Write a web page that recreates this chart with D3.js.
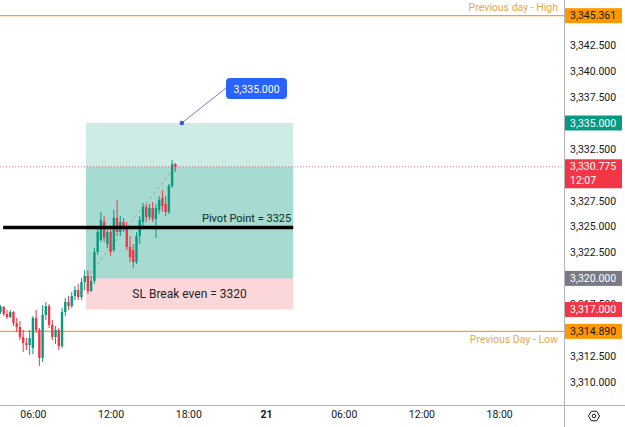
<!DOCTYPE html>
<html><head><meta charset="utf-8">
<script src="https://cdn.jsdelivr.net/npm/d3@7"></script>
<style>html,body{margin:0;padding:0;background:#fff;overflow:hidden}svg{display:block;font-family:Roboto,"Liberation Sans",sans-serif}</style>
</head><body><svg id="c" width="625" height="427"></svg>
<script>
// ---- data ----
const startHour = 3.5;          // first candle 03:30 (day 20)
const barHours = 0.25;          // 15 minute candles
const open  = [3316.76,3317.24,3316.56,3316.27,3316.76,3315.69,3315.31,3314.34,3313.76,3313.57,3313.28,3316.18,3315.02,3312.32,3316.47,3317.33,3315.50,3314.34,3315.02,3313.47,3316.76,3317.72,3317.33,3318.30,3318.88,3318.20,3319.65,3320.23,3318.78,3319.75,3322.55,3323.71,3325.44,3323.32,3324.48,3322.74,3325.83,3324.48,3325.44,3324.86,3323.03,3322.74,3321.58,3324.09,3325.44,3326.89,3325.93,3326.79,3325.73,3326.60,3327.76,3327.18,3326.41,3328.92,3331.04];
const high  = [3317.43,3317.33,3316.95,3316.95,3316.85,3316.18,3315.89,3315.02,3314.25,3315.02,3316.37,3316.95,3315.21,3317.43,3317.72,3317.53,3315.98,3315.40,3315.21,3317.14,3318.11,3318.30,3318.69,3319.27,3319.46,3320.04,3320.81,3320.81,3320.23,3322.93,3324.86,3326.41,3326.02,3325.06,3324.86,3326.60,3327.57,3326.02,3325.83,3325.44,3324.09,3323.32,3324.48,3326.02,3327.28,3327.18,3327.18,3327.37,3327.18,3327.95,3328.53,3327.95,3329.11,3331.43,3331.14];
const low   = [3316.56,3316.37,3316.08,3316.18,3315.40,3314.82,3314.05,3312.89,3313.09,3312.60,3312.70,3314.73,3311.54,3311.93,3315.98,3315.21,3314.05,3313.67,3313.09,3313.28,3316.37,3316.95,3317.14,3317.91,3317.91,3317.91,3318.88,3318.49,3318.69,3319.46,3322.26,3323.51,3323.51,3322.93,3322.16,3322.55,3324.09,3324.09,3324.48,3322.74,3321.58,3321.00,3321.39,3323.32,3325.06,3325.44,3325.64,3325.44,3323.90,3326.22,3326.41,3326.02,3326.22,3328.73,3330.27];
const close = [3317.24,3316.56,3316.27,3316.76,3315.69,3315.31,3314.34,3313.76,3313.57,3314.25,3316.18,3315.02,3312.32,3316.47,3317.33,3315.50,3314.34,3315.02,3313.47,3316.76,3317.72,3317.33,3318.30,3318.88,3318.20,3319.65,3320.23,3318.78,3319.75,3322.55,3324.48,3325.64,3323.90,3324.48,3322.55,3325.83,3324.48,3325.44,3324.86,3323.03,3322.06,3321.58,3324.09,3325.64,3326.89,3325.93,3326.79,3325.73,3326.79,3327.57,3326.99,3326.41,3328.92,3331.04,3330.775];

const priceTicks = [3342.5,3340,3337.5,3335,3332.5,3327.5,3325,3322.5,3320,3317.5,3315,3312.5,3310];
const timeTickHours = [6,12,18,24,30,36,42];
const timeTickLabels = ["06:00","12:00","18:00","21","06:00","12:00","18:00"];

const prevHigh = 3345.361, prevLow = 3314.890;
const pivot = 3325, target = 3335, entry = 3320, stop = 3317, lastPrice = 3330.775;
const countdown = "12:07";
const positionStartHour = 10.1, positionEndHour = 26.1;  // long position tool span
const pivotStartHour = 3.7;
const targetDotHour = 17.5;

// ---- scales ----
const W = 625, H = 427, plotR = 564, plotB = 405;
const y = d3.scaleLinear().domain([3335, 3310]).range([123, 382]);
const x = d3.scaleLinear().domain([3.46, 47.01]).range([0, plotR]);
const fmt = d3.format(",.3f");
const svg = d3.select("#c");

const green = "#089981", red = "#f23645", orange = "#f2a32a";

const plot = svg.append("g");
plot.append("defs").append("clipPath").attr("id","clip").append("rect").attr("x",0).attr("y",0).attr("width",plotR).attr("height",plotB);
const g = plot.append("g").attr("clip-path","url(#clip)");

// position tool
const xs = x(positionStartHour), xe = x(positionEndHour);
g.append("rect").attr("x",xs).attr("y",y(target)).attr("width",xe-xs).attr("height",y(entry)-y(target)).attr("fill","rgba(8,153,129,0.2)");
g.append("rect").attr("x",xs).attr("y",y(lastPrice)).attr("width",xe-xs).attr("height",y(entry)-y(lastPrice)).attr("fill","rgba(8,153,129,0.2)");
g.append("rect").attr("x",xs).attr("y",y(entry)).attr("width",xe-xs).attr("height",y(stop)-y(entry)).attr("fill","rgba(242,54,69,0.2)");

// prev day lines
g.append("line").attr("x1",0).attr("x2",plotR).attr("y1",y(prevHigh)).attr("y2",y(prevHigh)).attr("stroke",orange).attr("stroke-width",1.4);
g.append("line").attr("x1",0).attr("x2",plotR).attr("y1",y(prevLow)).attr("y2",y(prevLow)).attr("stroke",orange).attr("stroke-width",1.4);
g.append("text").attr("x",558).attr("y",y(prevHigh)-5).attr("text-anchor","end").attr("fill","#e6a94a").attr("font-size",10.5).text("Previous day - High");
g.append("text").attr("x",558).attr("y",y(prevLow)+12).attr("text-anchor","end").attr("fill","#e6a94a").attr("font-size",10.5).text("Previous Day - Low");

// last price dotted line
g.append("line").attr("x1",0).attr("x2",plotR).attr("y1",y(lastPrice)).attr("y2",y(lastPrice)).attr("stroke",red).attr("stroke-width",1).attr("stroke-dasharray","1,2").attr("opacity",0.7);

// dashed entry->current
const lastIdx = close.length-1;
const lastHour = startHour + lastIdx*barHours;
g.append("line").attr("x1",xs).attr("y1",y(entry)).attr("x2",x(lastHour)).attr("y2",y(lastPrice)).attr("stroke","#9aa0a8").attr("stroke-width",1).attr("stroke-dasharray","3,3");

// candles
const idx = d3.range(close.length);
const cg = g.append("g");
cg.selectAll("line.w").data(idx).join("line")
  .attr("x1",i=>x(startHour+i*barHours)).attr("x2",i=>x(startHour+i*barHours))
  .attr("y1",i=>y(high[i])).attr("y2",i=>y(low[i]))
  .attr("stroke",i=>close[i]>=open[i]?green:red).attr("stroke-width",1);
cg.selectAll("rect.b").data(idx).join("rect")
  .attr("x",i=>x(startHour+i*barHours)-1.2).attr("width",2.4)
  .attr("y",i=>y(Math.max(open[i],close[i])))
  .attr("height",i=>Math.max(1,Math.abs(y(open[i])-y(close[i]))))
  .attr("fill",i=>close[i]>=open[i]?green:red);

// pivot line
g.append("line").attr("x1",x(pivotStartHour)).attr("x2",xe).attr("y1",y(pivot)+1).attr("y2",y(pivot)+1).attr("stroke","#000").attr("stroke-width",3.5);
g.append("text").attr("x",xe-2).attr("y",y(pivot)-5).attr("text-anchor","end").attr("fill","#0f2e2a").attr("font-size",11).text("Pivot Point = " + pivot);
g.append("text").attr("x",(xs+xe)/2).attr("y",(y(entry)+y(stop))/2+4.5).attr("text-anchor","middle").attr("fill","#1e1e1e").attr("font-size",12).text("SL Break even = " + entry);

// target callout
const dx = x(targetDotHour), dy = y(target);
g.append("line").attr("x1",dx).attr("y1",dy).attr("x2",226).attr("y2",88).attr("stroke","#6b7fd8").attr("stroke-width",1);
g.append("circle").attr("cx",dx).attr("cy",dy).attr("r",2.3).attr("fill","#3d56d6");
g.append("rect").attr("x",226).attr("y",78).attr("width",61).attr("height",21).attr("rx",4).attr("fill","#2962ff");
g.append("text").attr("x",256.5).attr("y",92.5).attr("text-anchor","middle").attr("fill","#fff").attr("font-size",10.5).text(fmt(target));

// axes lines
svg.append("line").attr("x1",plotR+0.5).attr("x2",plotR+0.5).attr("y1",0).attr("y2",H).attr("stroke","#b2b5be");
svg.append("line").attr("x1",0).attr("x2",W).attr("y1",plotB+0.5).attr("y2",plotB+0.5).attr("stroke","#b2b5be");

// right price axis
const yAxis = d3.axisRight(y).tickValues(priceTicks).tickSize(0).tickPadding(6).tickFormat(fmt);
const ya = svg.append("g").attr("transform",`translate(${plotR},0)`).call(yAxis);
ya.select(".domain").remove();
ya.selectAll("text").attr("font-size",10.5).attr("fill","#131722").attr("font-family","Roboto,'Liberation Sans',sans-serif");

// price labels on axis
function tag(v, bg, fg, extra){
  const h = extra ? 29 : 15;
  const yy = y(v) - 7.5;
  svg.append("rect").attr("x",plotR+1).attr("y",yy).attr("width",57).attr("height",h).attr("fill",bg);
  svg.append("text").attr("x",plotR+6).attr("y",yy+11).attr("fill",fg).attr("font-size",10.5).text(fmt(v));
  if(extra) svg.append("text").attr("x",plotR+6).attr("y",yy+25).attr("fill",fg).attr("font-size",10.5).text(extra);
}
tag(prevHigh, "#ff9800", "#131722");
tag(target, green, "#fff");
tag(lastPrice, red, "#fff", countdown);
tag(entry, "#787b86", "#fff");
tag(stop, red, "#fff");
tag(prevLow, "#ff9800", "#131722");

// time axis
const xAxis = d3.axisBottom(x).tickValues(timeTickHours).tickSize(0).tickPadding(6).tickFormat((d,i)=>timeTickLabels[i]);
const xa = svg.append("g").attr("transform",`translate(0,${plotB})`).call(xAxis);
xa.select(".domain").remove();
xa.selectAll("text").attr("font-size",10.5).attr("fill","#131722").attr("font-family","Roboto,'Liberation Sans',sans-serif")
  .attr("font-weight",(d,i)=>timeTickLabels[i]==="21"?"bold":"normal");

// settings icon
const gx = 594, gy = 416;
const hex = d3.range(6).map(k=>{const a=Math.PI/3*k; return [gx+5.5*Math.cos(a), gy+5.5*Math.sin(a)];});
svg.append("polygon").attr("points",hex.map(p=>p.join(",")).join(" ")).attr("fill","none").attr("stroke","#131722").attr("stroke-width",1);
svg.append("circle").attr("cx",gx).attr("cy",gy).attr("r",1.8).attr("fill","none").attr("stroke","#131722").attr("stroke-width",1);
</script></body></html>
